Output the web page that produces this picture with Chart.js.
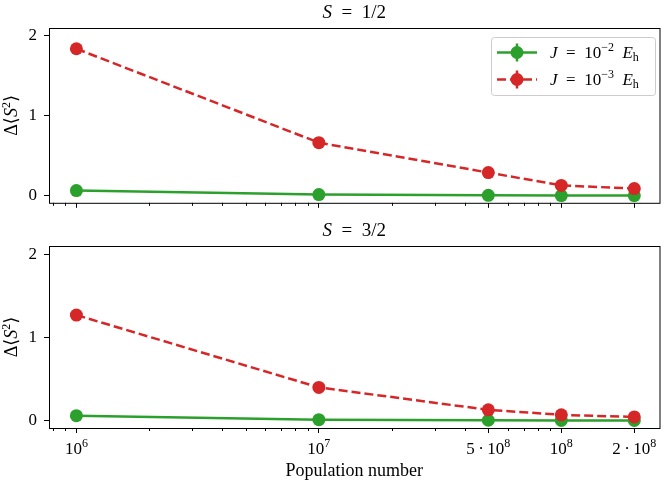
<!DOCTYPE html>
<html>
<head>
<meta charset="utf-8">
<script src="https://cdn.jsdelivr.net/npm/chart.js@4.4.0/dist/chart.umd.min.js"></script>
<style>
  html, body { margin: 0; padding: 0; background: #fff; }
  #wrap { position: relative; width: 666px; height: 481px; }
  #chartTop { position: absolute; left: 0; top: 0; }
  #chartBottom { position: absolute; left: 0; top: 220px; }
</style>
</head>
<body>
<div id="wrap">
  <canvas id="chartTop" width="666" height="220"></canvas>
  <canvas id="chartBottom" width="666" height="261"></canvas>
</div>
<script>
'use strict'
//----------
// - DATA -
//----------
var populations = [1e6, 1e7, 5e7, 1e8, 2e8];
// tick labels as [mantissa, exponent]
var popLabels = [['10', '6'], ['10', '7'], ['5\u2009·\u200910', '8'], ['10', '8'], ['2\u2009·\u200910', '8']];
var yTicks = [0, 1, 2];

// S = 1/2
var halfStrong = [0.065, 0.015, 0.005, 0.003, 0.002];  // J = 1e-2 Eh
var halfWeak = [1.84, 0.665, 0.29, 0.13, 0.09];        // J = 1e-3 Eh
// S = 3/2
var threeHalfStrong = [0.06, 0.012, 0.005, 0.003, 0.002];
var threeHalfWeak = [1.27, 0.40, 0.13, 0.07, 0.045];

var legendExps = ['−2', '−3'];

var colorGreen = '#2ca02c';
var colorRed = '#d62728';
var serif = "'Liberation Serif', 'DejaVu Serif', serif";

var xMin = Math.pow(10, 5.887);
var xMax = Math.pow(10, 8.405);

// minor ticks of the log axis (2..9 x 10^n)
var minorTicks = [];
[1e5, 1e6, 1e7, 1e8].forEach(function (dec) {
  for (var k = 2; k < 10; k++) minorTicks.push(k * dec);
});

// draw a run of text pieces: [text, size, italic, dy]
function drawRuns(ctx, runs, x, y, center) {
  var widths = runs.map(function (r) {
    ctx.font = (r[2] ? 'italic ' : '') + r[1] + 'px ' + serif;
    return ctx.measureText(r[0]).width;
  });
  var total = widths.reduce(function (a, b) { return a + b; }, 0);
  var cx = center ? x - total / 2 : x;
  ctx.textAlign = 'left';
  ctx.textBaseline = 'alphabetic';
  ctx.fillStyle = '#000';
  runs.forEach(function (r, i) {
    ctx.font = (r[2] ? 'italic ' : '') + r[1] + 'px ' + serif;
    ctx.fillText(r[0], cx, y + r[3]);
    cx += widths[i];
  });
}

function drawLegend(chart) {
  var ctx = chart.ctx;
  var sets = chart.data.datasets;
  ctx.save();
  ctx.beginPath();
  ctx.roundRect(491.5, 37.5, 164, 58, 3);
  ctx.fillStyle = 'rgba(255,255,255,0.8)';
  ctx.fill();
  ctx.strokeStyle = '#cccccc';
  ctx.lineWidth = 1;
  ctx.stroke();
  sets.forEach(function (d, i) {
    var y = 52.5 + i * 27;
    ctx.strokeStyle = d.borderColor;
    ctx.lineWidth = d.borderWidth;
    ctx.setLineDash(d.borderDash || []);
    ctx.beginPath();
    ctx.moveTo(497, y);
    ctx.lineTo(537, y);
    ctx.stroke();
    ctx.setLineDash([]);
    ctx.beginPath();
    ctx.moveTo(517, y - 9);
    ctx.lineTo(517, y + 9);
    ctx.stroke();
    ctx.beginPath();
    ctx.arc(517, y, 6.5, 0, Math.PI * 2);
    ctx.fillStyle = d.borderColor;
    ctx.fill();
    drawRuns(ctx, [
      ['J', 17, true, 0],
      ['\u2002=\u200210', 17, false, 0],
      [legendExps[i], 12, false, -7],
      ['\u2002', 17, false, 0],
      ['E', 17, true, 0],
      ['h', 12, false, 3]
    ], 550, y + 5.5, false);
  });
  ctx.restore();
}

var framePlugin = {
  id: 'frame',
  afterDraw: function (chart, args, opts) {
    var ctx = chart.ctx;
    var a = chart.chartArea;
    var xs = chart.scales.x;
    ctx.save();
    ctx.strokeStyle = '#000';
    ctx.lineWidth = 1;
    ctx.strokeRect(a.left + 0.5, a.top + 0.5, a.right - a.left, a.bottom - a.top);
    ctx.beginPath();
    minorTicks.forEach(function (v) {
      if (v < xs.min || v > xs.max || populations.indexOf(v) >= 0) return;
      var px = Math.round(xs.getPixelForValue(v)) + 0.5;
      ctx.moveTo(px, a.bottom);
      ctx.lineTo(px, a.bottom + 3);
    });
    ctx.stroke();
    ctx.restore();

    // tick labels with real superscripts
    if (opts.labels) {
      populations.forEach(function (v, i) {
        var lab = popLabels[i];
        drawRuns(ctx, [[lab[0], 17, false, 0], [lab[1], 12, false, -7]],
          xs.getPixelForValue(v), a.bottom + 26, true);
      });
    }

    // y axis label, Δ⟨S²⟩ with italic S
    ctx.save();
    ctx.translate(17, (a.top + a.bottom) / 2);
    ctx.rotate(-Math.PI / 2);
    drawRuns(ctx, [['Δ⟨', 18, false, 0], ['S', 18, true, 0], ['2', 12, false, -7], ['⟩', 18, false, 0]], 0, 0, true);
    ctx.restore();

    drawRuns(ctx, [['S', 19, true, 0], ['\u2002=\u2002' + opts.spin, 19, false, 0]],
      (a.left + a.right) / 2, a.top - 10, true);

    if (opts.legend) drawLegend(chart);
  }
};

function makePanel(canvasId, spin, strongVals, weakVals, isBottom) {
  return new Chart(document.getElementById(canvasId), {
    type: 'line',
    data: {
      datasets: [{
        label: 'J = 10⁻² Eₕ',
        data: populations.map(function (p, i) { return { x: p, y: strongVals[i] }; }),
        borderColor: colorGreen,
        backgroundColor: colorGreen,
        borderWidth: 2.5,
        pointRadius: 6.5,
        pointHoverRadius: 6.5,
        pointBorderWidth: 0,
        order: 1
      }, {
        label: 'J = 10⁻³ Eₕ',
        data: populations.map(function (p, i) { return { x: p, y: weakVals[i] }; }),
        borderColor: colorRed,
        backgroundColor: colorRed,
        borderWidth: 2.5,
        borderDash: [9, 4],
        pointRadius: 6.5,
        pointHoverRadius: 6.5,
        pointBorderWidth: 0,
        order: 0
      }]
    },
    options: {
      responsive: false,
      animation: false,
      events: [],
      layout: { padding: { top: isBottom ? 26 : 28, right: 4, left: 0, bottom: 0 } },
      plugins: {
        legend: { display: false },
        tooltip: { enabled: false },
        frame: { spin: spin, legend: !isBottom, labels: isBottom }
      },
      scales: {
        x: {
          type: 'logarithmic',
          min: xMin,
          max: xMax,
          afterBuildTicks: function (s) { s.ticks = populations.map(function (v) { return { value: v }; }); },
          afterFit: function (s) { s.height = isBottom ? 53 : 10; },
          grid: { drawOnChartArea: false, drawTicks: true, tickLength: 5, tickColor: '#000' },
          border: { display: false },
          ticks: { display: false, autoSkip: false, maxRotation: 0 },
          title: {
            display: isBottom,
            text: 'Population number',
            color: '#000',
            font: { family: serif, size: 18, lineHeight: 1 },
            padding: { top: 0, bottom: 1 }
          }
        },
        y: {
          min: -0.088,
          max: 2.1,
          afterBuildTicks: function (s) { s.ticks = yTicks.map(function (v) { return { value: v }; }); },
          afterFit: function (s) { s.width = 49; },
          grid: { drawOnChartArea: false, drawTicks: true, tickLength: 5, tickColor: '#000' },
          border: { display: false },
          ticks: { padding: 7, color: '#000', font: { family: serif, size: 17 } }
        }
      }
    },
    plugins: [framePlugin]
  });
}

makePanel('chartTop', '1/2', halfStrong, halfWeak, false);
makePanel('chartBottom', '3/2', threeHalfStrong, threeHalfWeak, true);
</script>
</body>
</html>
